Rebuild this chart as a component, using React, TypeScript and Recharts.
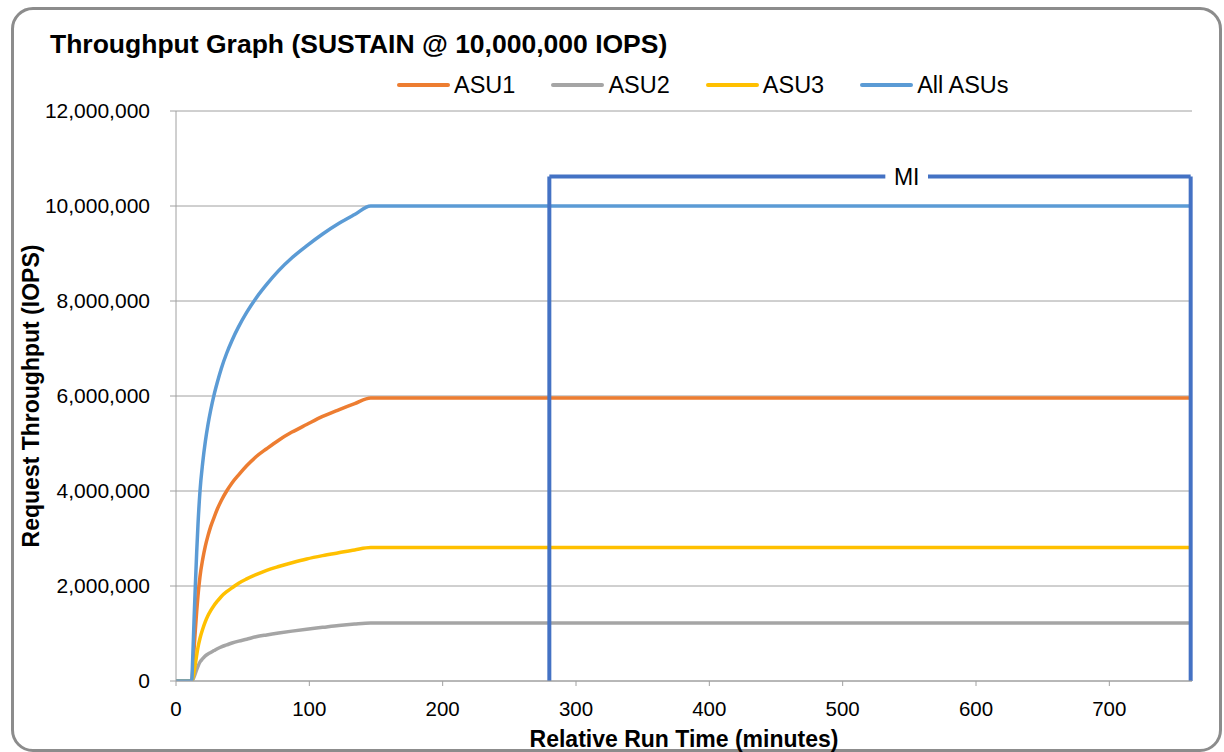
import { LineChart, Line, XAxis, YAxis, CartesianGrid, ReferenceLine, Label } from 'recharts'

// minutes since start of the run, sampled along the ramp-up
const minutes = [0, 11.8, 12.5, 13.5, 14.5, 15.5, 16.5, 18, 20, 22, 24, 26, 28.5, 31, 34, 38, 42, 47, 53, 60, 68, 77, 87, 98, 110, 122, 134, 146, 762]

const asu1 = [0, 0, 220000, 650000, 1070000, 1460000, 1800000, 2200000, 2560000, 2840000, 3060000, 3250000, 3440000, 3620000, 3800000, 4000000, 4170000, 4340000, 4530000, 4720000, 4890000, 5070000, 5240000, 5400000, 5570000, 5710000, 5840000, 5960000, 5960000]
const asu2 = [0, 0, 20000, 80000, 160000, 240000, 310000, 400000, 470000, 530000, 570000, 600000, 640000, 680000, 720000, 760000, 800000, 840000, 880000, 930000, 970000, 1010000, 1050000, 1090000, 1130000, 1170000, 1200000, 1220000, 1220000]
const asu3 = [0, 0, 45000, 190000, 360000, 540000, 710000, 900000, 1090000, 1250000, 1380000, 1480000, 1590000, 1680000, 1780000, 1880000, 1960000, 2060000, 2150000, 2240000, 2330000, 2410000, 2490000, 2570000, 2640000, 2700000, 2760000, 2810000, 2810000]
const allAsus = [0, 0, 450000, 1250000, 2000000, 2700000, 3300000, 4000000, 4590000, 5040000, 5400000, 5700000, 6020000, 6290000, 6580000, 6900000, 7170000, 7460000, 7760000, 8060000, 8350000, 8640000, 8910000, 9160000, 9410000, 9630000, 9820000, 10000000, 10000000]

const xTicks = [0, 100, 200, 300, 400, 500, 600, 700]
const yTicks = [0, 2000000, 4000000, 6000000, 8000000, 10000000, 12000000]

// measurement interval bracket
const miStart = 280
const miEnd = 761
const miTop = 10620000
const miGapFrom = 532
const miGapTo = 564

const series = [
  { key: 'asu1', name: 'ASU1', color: '#ED7D31' },
  { key: 'asu2', name: 'ASU2', color: '#A5A5A5' },
  { key: 'asu3', name: 'ASU3', color: '#FFC000' },
  { key: 'all', name: 'All ASUs', color: '#5B9BD5' },
]

const data = minutes.map((t, i) => ({
  t,
  asu1: asu1[i],
  asu2: asu2[i],
  asu3: asu3[i],
  all: allAsus[i],
}))

const font = '"Liberation Sans", Arial, sans-serif'
const miColor = '#4472C4'
const gridColor = '#a0a0a0'

export default function App() {
  return (
    <div style={{ position: 'absolute', left: 0, top: 0, width: 1224, height: 752, background: '#fff', fontFamily: font, overflow: 'hidden' }}>
      <div
        style={{
          position: 'absolute',
          left: 11,
          top: 7,
          width: 1211,
          height: 745,
          boxSizing: 'border-box',
          border: '3.5px solid #8c8c8c',
          borderRadius: 22,
        }}
      />
      <div style={{ position: 'absolute', left: 50, top: 31, fontSize: 26.5, lineHeight: '26px', fontWeight: 'bold', color: '#000', whiteSpace: 'nowrap' }}>
        Throughput Graph (SUSTAIN @ 10,000,000 IOPS)
      </div>
      <div style={{ position: 'absolute', left: 397, top: 72, height: 26, display: 'flex', alignItems: 'center', gap: 36 }}>
        {series.map((s) => (
          <div key={s.key} style={{ display: 'flex', alignItems: 'center' }}>
            <div style={{ width: 53, height: 3.5, borderRadius: 2, background: s.color }} />
            <span style={{ marginLeft: 4, fontSize: 23.5, lineHeight: '26px', color: '#000' }}>{s.name}</span>
          </div>
        ))}
      </div>
      <div style={{ position: 'absolute', left: 0, top: 0 }}>
        <LineChart width={1224} height={752} data={data} margin={{ top: 111, right: 32, bottom: 0, left: 0 }} style={{ fontFamily: font }}>
          <CartesianGrid vertical={false} stroke={gridColor} strokeWidth={1} />
          <XAxis
            dataKey="t"
            type="number"
            domain={[0, 762]}
            ticks={xTicks}
            height={71}
            tickSize={5}
            tickMargin={15}
            stroke={gridColor}
            tick={{ fill: '#000', fontSize: 20.5 }}
            allowDataOverflow
          >
            <Label value="Relative Run Time (minutes)" position="insideBottom" offset={5} style={{ fontSize: 23, fontWeight: 'bold', fill: '#000' }} />
          </XAxis>
          <YAxis
            domain={[0, 12000000]}
            ticks={yTicks}
            width={176}
            tickSize={6}
            tickMargin={20}
            stroke={gridColor}
            tick={{ fill: '#000', fontSize: 21 }}
            tickFormatter={(v: number) => v.toLocaleString('en-US')}
            allowDataOverflow
          >
            <Label value="Request Throughput (IOPS)" angle={-90} position="insideLeft" offset={31} style={{ fontSize: 23, fontWeight: 'bold', fill: '#000', textAnchor: 'middle' }} />
          </YAxis>
          {series.map((s) => (
            <Line
              key={s.key}
              dataKey={s.key}
              name={s.name}
              type="monotone"
              stroke={s.color}
              strokeWidth={3.5}
              dot={false}
              activeDot={false}
              isAnimationActive={false}
            />
          ))}
          <ReferenceLine segment={[{ x: miStart, y: 0 }, { x: miStart, y: miTop }]} stroke={miColor} strokeWidth={4} />
          <ReferenceLine segment={[{ x: miEnd, y: 0 }, { x: miEnd, y: miTop }]} stroke={miColor} strokeWidth={4} />
          <ReferenceLine segment={[{ x: miStart, y: miTop }, { x: miGapFrom, y: miTop }]} stroke={miColor} strokeWidth={4} />
          <ReferenceLine segment={[{ x: miGapTo, y: miTop }, { x: miEnd, y: miTop }]} stroke={miColor} strokeWidth={4} />
          <ReferenceLine segment={[{ x: miGapFrom, y: miTop }, { x: miGapTo, y: miTop }]} stroke="none">
            <Label value="MI" position="center" style={{ fontSize: 23, fill: '#000' }} />
          </ReferenceLine>
        </LineChart>
      </div>
    </div>
  )
}
